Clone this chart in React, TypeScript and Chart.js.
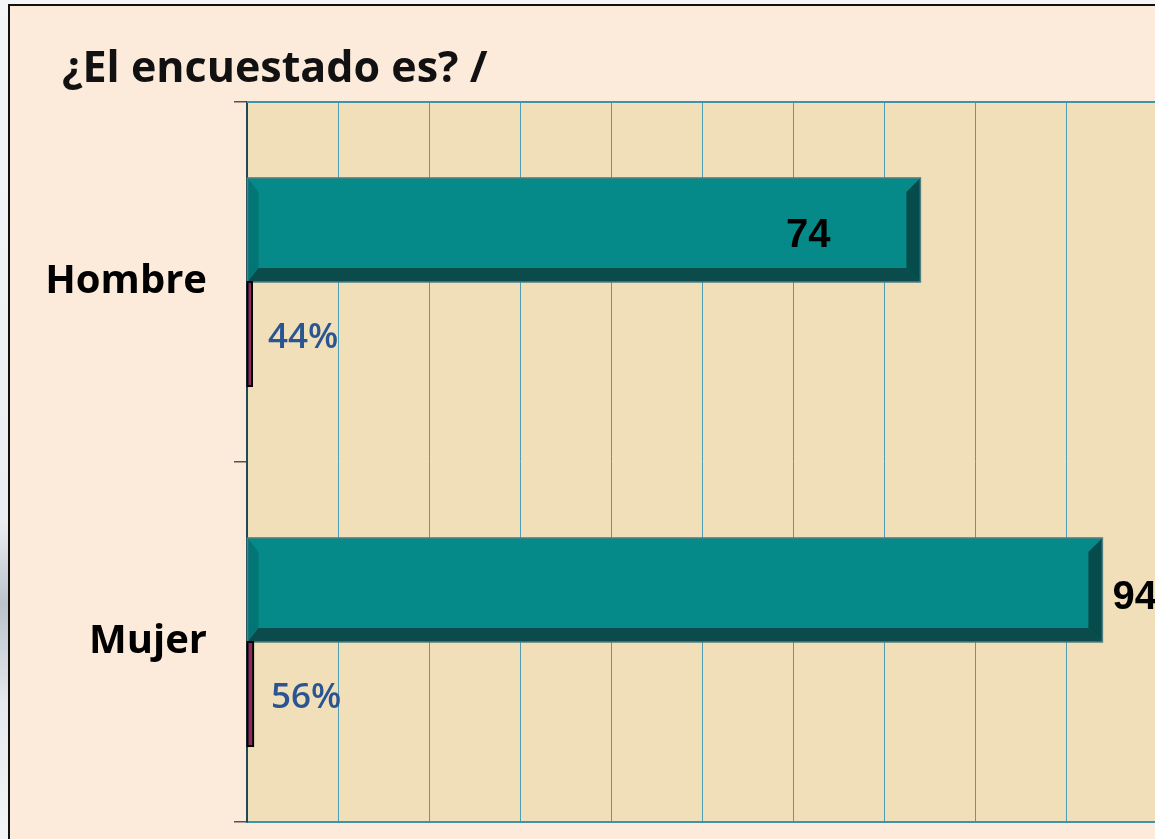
import React, { useEffect, useRef } from "react";
import { Chart, registerables } from "chart.js";

Chart.register(...registerables);

const categories = ["Hombre", "Mujer"];
const counts = [74, 94];
const shares = [0.44, 0.56];
const titleText = "¿El encuestado es? /";

const framePlugin = {
  id: "frame",
  beforeDraw(chart: any) {
    const { ctx, chartArea } = chart;
    const W = chart.width;
    const H = chart.height;
    ctx.save();
    const g = ctx.createLinearGradient(0, 0, 0, H);
    g.addColorStop(0, "#f5f6f8");
    g.addColorStop(0.62, "#eceef1");
    g.addColorStop(0.72, "#bcc3cc");
    g.addColorStop(0.84, "#e6e9ed");
    g.addColorStop(1, "#f3f4f6");
    ctx.fillStyle = g;
    ctx.fillRect(0, 0, W, H);
    ctx.fillStyle = "#FCEADB";
    ctx.fillRect(9, 5, W - 9, H - 5);
    ctx.strokeStyle = "#111";
    ctx.lineWidth = 2;
    ctx.beginPath();
    ctx.moveTo(9, H);
    ctx.lineTo(9, 5);
    ctx.lineTo(W, 5);
    ctx.stroke();
    ctx.fillStyle = "#F0DFB9";
    ctx.fillRect(chartArea.left, chartArea.top, chartArea.right - chartArea.left, chartArea.bottom - chartArea.top);
    ctx.fillStyle = "#111";
    ctx.font = '700 43px "Open Sans"';
    ctx.textBaseline = "alphabetic";
    ctx.textAlign = "left";
    ctx.fillText(titleText, 62, 82);
    ctx.restore();
  },
  afterDraw(chart: any) {
    const { ctx, chartArea } = chart;
    ctx.save();
    ctx.strokeStyle = "#3E93A9";
    ctx.lineWidth = 2;
    ctx.beginPath();
    ctx.moveTo(chartArea.left, chartArea.top);
    ctx.lineTo(chartArea.right, chartArea.top);
    ctx.stroke();
    ctx.restore();
  },
};

const bevelPlugin = {
  id: "bevel",
  afterDatasetsDraw(chart: any) {
    const { ctx } = chart;
    const meta = chart.getDatasetMeta(0);
    ctx.save();
    meta.data.forEach((bar: any) => {
      const p = bar.getProps(["x", "y", "base", "height"], true);
      const top = p.y - p.height / 2;
      const bottom = p.y + p.height / 2;
      const left = p.base;
      const right = p.x;
      const b = 14;
      const bl = 11;
      ctx.fillStyle = "#037575";
      ctx.beginPath();
      ctx.moveTo(left, top);
      ctx.lineTo(left + bl, top + b);
      ctx.lineTo(left + bl, bottom - b);
      ctx.lineTo(left, bottom);
      ctx.closePath();
      ctx.fill();
      ctx.fillStyle = "#0B4B4C";
      ctx.beginPath();
      ctx.moveTo(left, bottom);
      ctx.lineTo(right, bottom);
      ctx.lineTo(right - b, bottom - b);
      ctx.lineTo(left + bl, bottom - b);
      ctx.closePath();
      ctx.fill();
      ctx.fillStyle = "#064C4C";
      ctx.beginPath();
      ctx.moveTo(right, top);
      ctx.lineTo(right, bottom);
      ctx.lineTo(right - b, bottom - b);
      ctx.lineTo(right - b, top + b);
      ctx.closePath();
      ctx.fill();
      ctx.strokeStyle = "#4F7F82";
      ctx.lineWidth = 1.5;
      ctx.strokeRect(left, top, right - left, bottom - top);
    });
    const m1 = chart.getDatasetMeta(1);
    m1.data.forEach((bar: any) => {
      const p = bar.getProps(["x", "y", "base", "height"], true);
      const top = p.y - p.height / 2;
      ctx.strokeStyle = "#000";
      ctx.lineWidth = 2;
      ctx.strokeRect(p.base, top, p.x - p.base + 1, p.height);
    });
    ctx.restore();
  },
};

const labelPlugin = {
  id: "valueLabels",
  afterDatasetsDraw(chart: any) {
    const { ctx } = chart;
    ctx.save();
    const m0 = chart.getDatasetMeta(0);
    ctx.font = 'bold 40px "Liberation Sans"';
    ctx.fillStyle = "#000";
    ctx.textBaseline = "middle";
    m0.data.forEach((bar: any, i: number) => {
      const p = bar.getProps(["x", "y"], true);
      const txt = String(counts[i]);
      if (i === 0) {
        ctx.textAlign = "right";
        ctx.fillText(txt, p.x - 90, p.y + 6);
      } else {
        ctx.textAlign = "left";
        ctx.fillText(txt, p.x + 10, p.y + 8);
      }
    });
    const m1 = chart.getDatasetMeta(1);
    ctx.font = '600 35px "Open Sans"';
    ctx.fillStyle = "#2B5592";
    ctx.textAlign = "left";
    m1.data.forEach((bar: any, i: number) => {
      const p = bar.getProps(["x", "y"], true);
      const txt = Math.round(shares[i] * 100) + "%";
      ctx.fillText(txt, p.x + 17 + i * 2, p.y + 4);
    });
    ctx.restore();
  },
};

export default function App() {
  const ref = useRef<HTMLCanvasElement>(null);
  useEffect(() => {
    if (!ref.current) return;
    const chart = new Chart(ref.current, {
      type: "bar",
      data: {
        labels: categories,
        datasets: [
          {
            label: "Cantidad",
            data: counts,
            backgroundColor: "#058A89",
            borderWidth: 0,
            categoryPercentage: 0.578,
            barPercentage: 1,
          },
          {
            label: "Porcentaje",
            data: shares,
            backgroundColor: "#8E2A5E",
            borderWidth: 0,
            categoryPercentage: 0.578,
            barPercentage: 1,
          },
        ],
      },
      options: {
        indexAxis: "y",
        responsive: false,
        animation: false,
        layout: { padding: { top: 102, bottom: 17, right: 8, left: 0 } },
        plugins: {
          legend: { display: false },
          tooltip: { enabled: false },
          title: { display: false },
        },
        scales: {
          x: {
            type: "linear",
            min: 0,
            max: 100,
            ticks: { display: false, stepSize: 10 },
            grid: { color: "#4E9DB2", lineWidth: 1, drawTicks: false },
            border: { display: true, color: "#3E93A9", width: 2 },
            afterFit: (scale: any) => {
              scale.height = 0;
              scale.paddingLeft = 0;
              scale.paddingRight = 0;
            },
          },
          y: {
            type: "category",
            grid: {
              offset: true,
              drawOnChartArea: false,
              drawTicks: true,
              tickLength: 13,
              color: "#555",
              lineWidth: 1.5,
            },
            border: { display: true, color: "#1C4B55", width: 2 },
            ticks: {
              color: "#000",
              font: { family: '"Open Sans"', size: 40, weight: "700" },
              padding: 27,
            },
            afterFit: (scale: any) => {
              scale.width = 247;
              scale.paddingTop = 0;
              scale.paddingBottom = 0;
            },
          },
        },
      },
      plugins: [framePlugin, bevelPlugin, labelPlugin],
    });
    return () => chart.destroy();
  }, []);
  return (
    <div
      style={{
        position: "fixed",
        left: 0,
        top: 0,
        width: 1155,
        height: 839,
        overflow: "hidden",
      }}
    >
      <canvas ref={ref} width={1165} height={839} style={{ position: "absolute", left: 0, top: 0 }} />
    </div>
  );
}
